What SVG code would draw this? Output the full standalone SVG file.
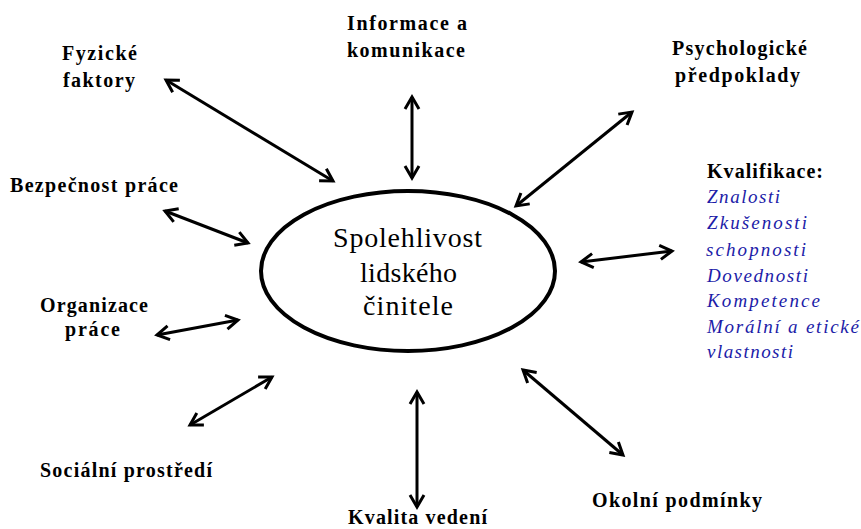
<svg xmlns="http://www.w3.org/2000/svg" width="861" height="529" viewBox="0 0 861 529">
  <style>
    .lbl { font-family: "Liberation Serif", "Times New Roman", serif; font-weight: bold; font-size: 20px; fill: #000; }
    .core { font-family: "Liberation Serif", "Times New Roman", serif; font-size: 28px; fill: #000; }
    .item { font-family: "Liberation Serif", "Times New Roman", serif; font-style: italic; font-size: 19px; fill: #1c1ca8; }
    .conn { stroke: #000; stroke-width: 3; fill: none; marker-start: url(#ah); marker-end: url(#ah); }
  </style>
  <defs>
    <marker id="ah" viewBox="-16 -10 20 20" refX="0" refY="0" markerWidth="20" markerHeight="20" markerUnits="userSpaceOnUse" orient="auto-start-reverse" overflow="visible">
      <path d="M-12,-7 L0,0 L-12,7" fill="none" stroke="#000" stroke-width="3"/>
    </marker>
  </defs>
  <rect width="861" height="529" fill="#fff"/>

  <!-- central node -->
  <g id="spolehlivost">
    <ellipse cx="408" cy="271" rx="147" ry="80" fill="none" stroke="#000" stroke-width="4"/>
    <text class="core" x="333" y="247" textLength="149" lengthAdjust="spacing">Spolehlivost</text>
    <text class="core" x="360" y="282" textLength="97" lengthAdjust="spacing">lidského</text>
    <text class="core" x="363" y="315" textLength="90" lengthAdjust="spacing">činitele</text>
  </g>

  <!-- surrounding factors -->
  <g id="fyzicke-faktory">
    <text class="lbl" x="62" y="60" textLength="75" lengthAdjust="spacing">Fyzické</text>
    <text class="lbl" x="63" y="87" textLength="72" lengthAdjust="spacing">faktory</text>
  </g>
  <g id="informace">
    <text class="lbl" x="347" y="30" textLength="120" lengthAdjust="spacing">Informace a</text>
    <text class="lbl" x="347" y="57" textLength="118" lengthAdjust="spacing">komunikace</text>
  </g>
  <g id="psychologicke">
    <text class="lbl" x="672" y="55" textLength="135" lengthAdjust="spacing">Psychologické</text>
    <text class="lbl" x="675" y="82" textLength="125" lengthAdjust="spacing">předpoklady</text>
  </g>
  <g id="kvalifikace">
    <text class="lbl" x="707" y="178" textLength="116" lengthAdjust="spacing">Kvalifikace:</text>
    <text class="item" x="707" y="203" textLength="73" lengthAdjust="spacing">Znalosti</text>
    <text class="item" x="707" y="229" textLength="100" lengthAdjust="spacing">Zkušenosti</text>
    <text class="item" x="706" y="256" textLength="100" lengthAdjust="spacing">schopnosti</text>
    <text class="item" x="707" y="282" textLength="101" lengthAdjust="spacing">Dovednosti</text>
    <text class="item" x="707" y="307" textLength="113" lengthAdjust="spacing">Kompetence</text>
    <text class="item" x="707" y="333" textLength="152" lengthAdjust="spacing">Morální a etické</text>
    <text class="item" x="707" y="358" textLength="86" lengthAdjust="spacing">vlastnosti</text>
  </g>
  <g id="bezpecnost">
    <text class="lbl" x="10" y="192" textLength="168" lengthAdjust="spacing">Bezpečnost práce</text>
  </g>
  <g id="organizace">
    <text class="lbl" x="40" y="312" textLength="108" lengthAdjust="spacing">Organizace</text>
    <text class="lbl" x="65" y="336" textLength="55" lengthAdjust="spacing">práce</text>
  </g>
  <g id="socialni">
    <text class="lbl" x="40" y="477" textLength="172" lengthAdjust="spacing">Sociální prostředí</text>
  </g>
  <g id="kvalita-vedeni">
    <text class="lbl" x="348" y="524" textLength="139" lengthAdjust="spacing">Kvalita vedení</text>
  </g>
  <g id="okolni">
    <text class="lbl" x="592" y="507" textLength="170" lengthAdjust="spacing">Okolní podmínky</text>
  </g>

  <!-- double-headed connectors -->
  <g id="connectors">
    <line class="conn" x1="166" y1="80" x2="333" y2="181"/>
    <line class="conn" x1="412" y1="97" x2="412" y2="178"/>
    <line class="conn" x1="632" y1="112" x2="516" y2="206"/>
    <line class="conn" x1="581" y1="262" x2="672" y2="251"/>
    <line class="conn" x1="165" y1="211" x2="248" y2="243"/>
    <line class="conn" x1="157" y1="335" x2="238" y2="320"/>
    <line class="conn" x1="190" y1="425" x2="272" y2="377"/>
    <line class="conn" x1="417" y1="392" x2="417" y2="507"/>
    <line class="conn" x1="523" y1="370" x2="623" y2="455"/>
  </g>
</svg>
